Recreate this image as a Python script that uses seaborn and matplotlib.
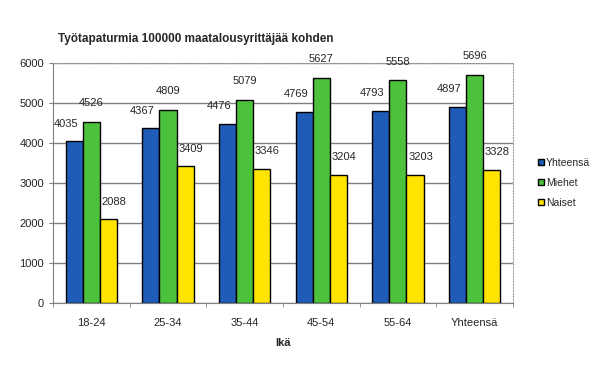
import pandas as pd
import matplotlib
matplotlib.use("Agg")
import matplotlib.pyplot as plt
import seaborn as sns

# data
ages = ["18-24", "25-34", "35-44", "45-54", "55-64", "Yhteensä"]
yhteensa = [4035, 4367, 4476, 4769, 4793, 4897]
miehet = [4526, 4809, 5079, 5627, 5558, 5696]
naiset = [2088, 3409, 3346, 3204, 3203, 3328]
series = ["Yhteensä", "Miehet", "Naiset"]
colors = ["#1f5cb8", "#4cc23c", "#ffe400"]

df = pd.DataFrame({
    "Ikä": ages * 3,
    "arvo": yhteensa + miehet + naiset,
    "sarja": [s for s in series for _ in ages],
})

sns.set_style("white")
plt.rcParams["font.family"] = ["Liberation Sans", "DejaVu Sans"]

fig = plt.figure(figsize=(6.12, 3.70), dpi=100)
ax = fig.add_axes([0.0866, 0.182, 0.7514, 0.6485])

sns.barplot(data=df, x="Ikä", y="arvo", hue="sarja", palette=colors,
            width=0.67, edgecolor="black", linewidth=1, ax=ax, saturation=1)

# labels above bars, nudged like the original
nudges = [(-6, 9), (0, 10), (4, 9)]
for cont, (dx, dy) in zip(ax.containers, nudges):
    for bar in cont:
        h = bar.get_height()
        ax.annotate(f"{h:.0f}", (bar.get_x() + bar.get_width() / 2, h),
                    xytext=(dx, dy), textcoords="offset points",
                    ha="center", va="bottom", fontsize=8)

ax.set_ylim(0, 6000)
ax.set_xlim(-0.5, 5.5)
ax.set_yticks(range(0, 6001, 1000))
ax.yaxis.grid(True, color="#808080", linewidth=1)
ax.set_axisbelow(True)

ax.set_xticks([i - 0.5 for i in range(7)], minor=True)
ax.tick_params(axis="x", which="major", length=0, labelsize=8, pad=11)
ax.tick_params(axis="x", which="minor", length=3, direction="out", color="#808080", bottom=True)
ax.tick_params(axis="y", length=3, direction="out", color="#808080", labelsize=8, left=True)

for s in ["top", "right"]:
    ax.spines[s].set_color("#a0a0a0")
    ax.spines[s].set_linestyle(":")
ax.spines["left"].set_color("#808080")
ax.spines["bottom"].set_color("#808080")

ax.set_ylabel("")
ax.set_xlabel("Ikä", fontsize=8, fontweight="bold", labelpad=7)
ax.set_title("Työtapaturmia 100000 maatalousyrittäjää kohden", fontsize=8.5,
             fontweight="bold", loc="left", x=0.01, pad=15)

ax.legend(loc="center left", bbox_to_anchor=(1.035, 0.5), frameon=False,
          fontsize=7.5, handlelength=0.55, handleheight=0.55, handletextpad=0.2,
          labelspacing=0.95)

fig.savefig("out.png", dpi=100)
